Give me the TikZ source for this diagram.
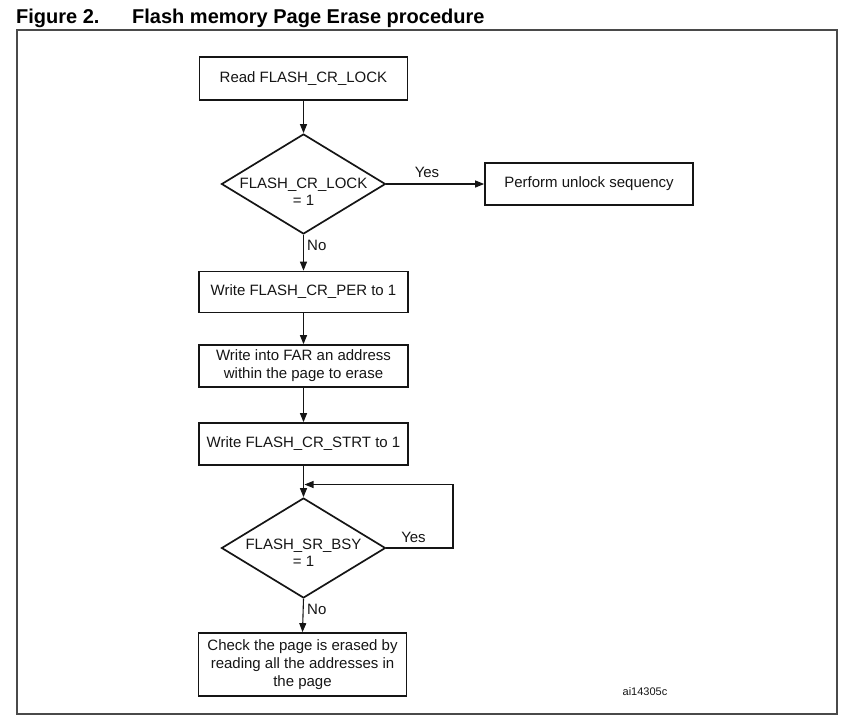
\documentclass[tikz,border=0pt]{standalone}
\usepackage{fontspec}
\setmainfont{Liberation Sans}
\usetikzlibrary{shapes.geometric,arrows.meta}
\definecolor{framegray}{HTML}{4A4A4A}
\definecolor{inkcol}{HTML}{151515}
\tikzset{
  boxnode/.style={draw=inkcol, line width=1.7pt, rectangle, inner sep=2pt,
    font=\fontsize{15}{18}\selectfont, text=inkcol, align=center},
  decnode/.style={draw=inkcol, line width=1.7pt, diamond, inner sep=0pt,
    minimum width=164pt, minimum height=100pt},
  dectext/.style={font=\fontsize{15}{17}\selectfont, text=inkcol, align=center, inner sep=0pt},
  flowarrow/.style={draw=inkcol, line width=1.1pt, -{Triangle[length=9pt,width=7pt]}},
  flowline/.style={draw=inkcol, line width=1.1pt},
  edgelabel/.style={font=\fontsize{15}{17}\selectfont, text=inkcol, inner sep=0pt},
  titletext/.style={font=\fontsize{20}{22}\selectfont\bfseries, text=black, inner sep=0pt, anchor=base west}
}
\begin{document}
\begin{tikzpicture}[x=1pt,y=-1pt]
\useasboundingbox (0,0) rectangle (849,721);
% title
\node[titletext] (fig) at (16,23) {Figure 2.};
\node[titletext] (ttl) at (132,23) {Flash memory Page Erase procedure};
% frame
\draw[framegray, line width=2pt] (16.5,30) rectangle (837,714);
% boxes
\node[boxnode, minimum width=208pt, minimum height=43pt] (b1) at (303.5,78.5) {Read FLASH\_CR\_LOCK};
\node[decnode] (d1) at (303.5,184) {};
\node[dectext] (d1t) at (303.5,192) {FLASH\_CR\_LOCK\\= 1};
\node[boxnode, minimum width=208pt, minimum height=42pt] (b3) at (589,184) {Perform unlock sequency};
\node[boxnode, minimum width=209pt, minimum height=41pt] (b2) at (303.5,292) {Write FLASH\_CR\_PER to 1};
\node[boxnode, minimum width=209pt, minimum height=42pt] (b4) at (303.5,366) {Write into FAR an address\\within the page to erase};
\node[boxnode, minimum width=209pt, minimum height=42pt] (b5) at (303.5,444) {Write FLASH\_CR\_STRT to 1};
\node[decnode] (d2) at (303.5,548) {};
\node[dectext] (d2t) at (303.5,553) {FLASH\_SR\_BSY\\= 1};
\node[boxnode, minimum width=208pt, minimum height=63pt] (b6) at (302.5,664.5) {Check the page is erased by\\reading all the addresses in\\the page};
\node[font=\fontsize{11}{13}\selectfont, text=inkcol, inner sep=0pt] (ref) at (645,692) {ai14305c};
% connectors
\draw[flowarrow] (b1.south) -- (d1.north);
\draw[flowarrow] (d1.east) -- (b3.west);
\node[edgelabel] (y1) at (427,172) {Yes};
\draw[flowarrow] (d1.south) -- (b2.north);
\node[edgelabel, anchor=west] (n1) at (307,245) {No};
\draw[flowarrow] (b2.south) -- (b4.north);
\draw[flowarrow] (b4.south) -- (b5.north);
\draw[flowarrow] (b5.south) -- (d2.north);
\coordinate (lpa) at (453,548);
\coordinate (lpb) at (453,484.5);
\coordinate (lpc) at (304.5,484.5);
\draw[flowline] (d2.east) -- (lpa) -- (lpb) -- (lpc);
\draw[flowarrow] (lpb) -- (lpc);
\node[edgelabel] (y2) at (413.5,537) {Yes};
\draw[flowarrow] (d2.south) -- (b6.north);
\node[edgelabel, anchor=west] (n2) at (307,609) {No};
\end{tikzpicture}
\end{document}
